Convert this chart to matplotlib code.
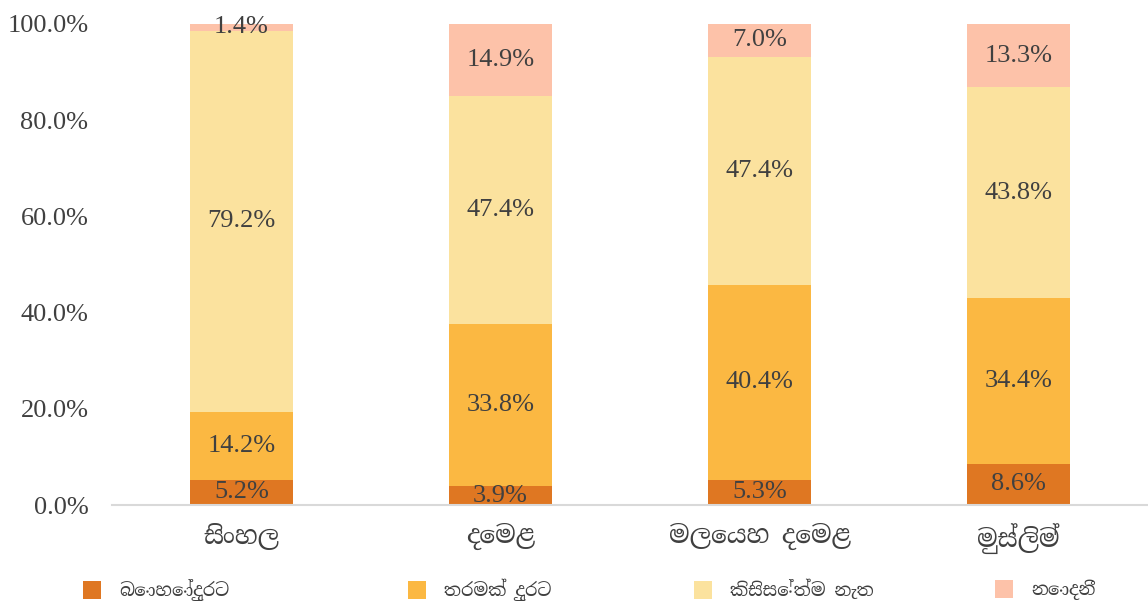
import matplotlib
matplotlib.use("Agg")
import matplotlib.pyplot as plt
from matplotlib import font_manager
import numpy as np

# data
groups = ["සිංහල", "දෙමළ", "මලෙයහ දෙමළ", "මුස්ලිම්"]
answers = ["බොහෝදුරට", "තරමක් දුරට", "කිසිසේත්ම නැත", "නොදනී"]
mostly = [5.2, 3.9, 5.3, 8.6]
somewhat = [14.2, 33.8, 40.4, 34.4]
not_at_all = [79.2, 47.4, 47.4, 43.8]
dont_know = [1.4, 14.9, 7.0, 13.3]
colours = ["#DF7722", "#FBB842", "#FBE29E", "#FDC2A9"]

# Sinhala font if one is installed, numbers in Times-like serif
sinhala = sorted({f.name for f in font_manager.fontManager.ttflist if "Sinhala" in f.name})
sinhala_serif = [n for n in sinhala if "Serif" in n] + [n for n in sinhala if "Serif" not in n]
num_font = ["Liberation Serif", "DejaVu Serif"]
sin_font = sinhala_serif + ["DejaVu Sans"]
text_col = "#404040"

fig = plt.figure(figsize=(11.48, 6.06), dpi=100)
ax = fig.add_axes([112 / 1148, 1 - 505 / 606, 1 - 112 / 1148, 481 / 606])

x = np.arange(len(groups))
series = [mostly, somewhat, not_at_all, dont_know]
bottom = np.zeros(len(groups))
handles = []
for vals, colour in zip(series, colours):
    vals = np.array(vals)
    bars = ax.bar(x, vals, 0.4, bottom=bottom, color=colour)
    handles.append(bars)
    for xi, b, v in zip(x, bottom, vals):
        ax.text(xi, b + v / 2, f"{v:.1f}%", ha="center", va="center",
                fontsize=19, color=text_col, family=num_font)
    bottom += vals

ax.set_xlim(-0.5, len(groups) - 0.5)
ax.set_ylim(0, 100)
ticks = np.arange(0, 101, 20)
ax.set_yticks(ticks)
ax.set_yticklabels([f"{t:.1f}%" for t in ticks], family=num_font, fontsize=19)
ax.set_xticks(x)
ax.set_xticklabels(groups, family=sin_font, fontsize=18)
ax.tick_params(axis="both", length=0, colors=text_col)
ax.tick_params(axis="y", pad=17)
ax.tick_params(axis="x", pad=13)
for s in ["top", "right", "left"]:
    ax.spines[s].set_visible(False)
ax.spines["bottom"].set_color("#D9D9D9")
ax.spines["bottom"].set_linewidth(1.5)

# legend entries placed one by one like the original
leg_x = [83, 408, 694, 995]
for h, name, lx in zip(handles, answers, leg_x):
    leg = fig.legend([h], [name], loc="center left",
                     bbox_to_anchor=(lx / 1148, 1 - 590 / 606),
                     frameon=False, borderpad=0, borderaxespad=0,
                     handlelength=1.0, handleheight=1.1, handletextpad=1.0,
                     prop={"family": sin_font, "size": 13})
    for t in leg.get_texts():
        t.set_color(text_col)

fig.savefig("out.png", dpi=100)
